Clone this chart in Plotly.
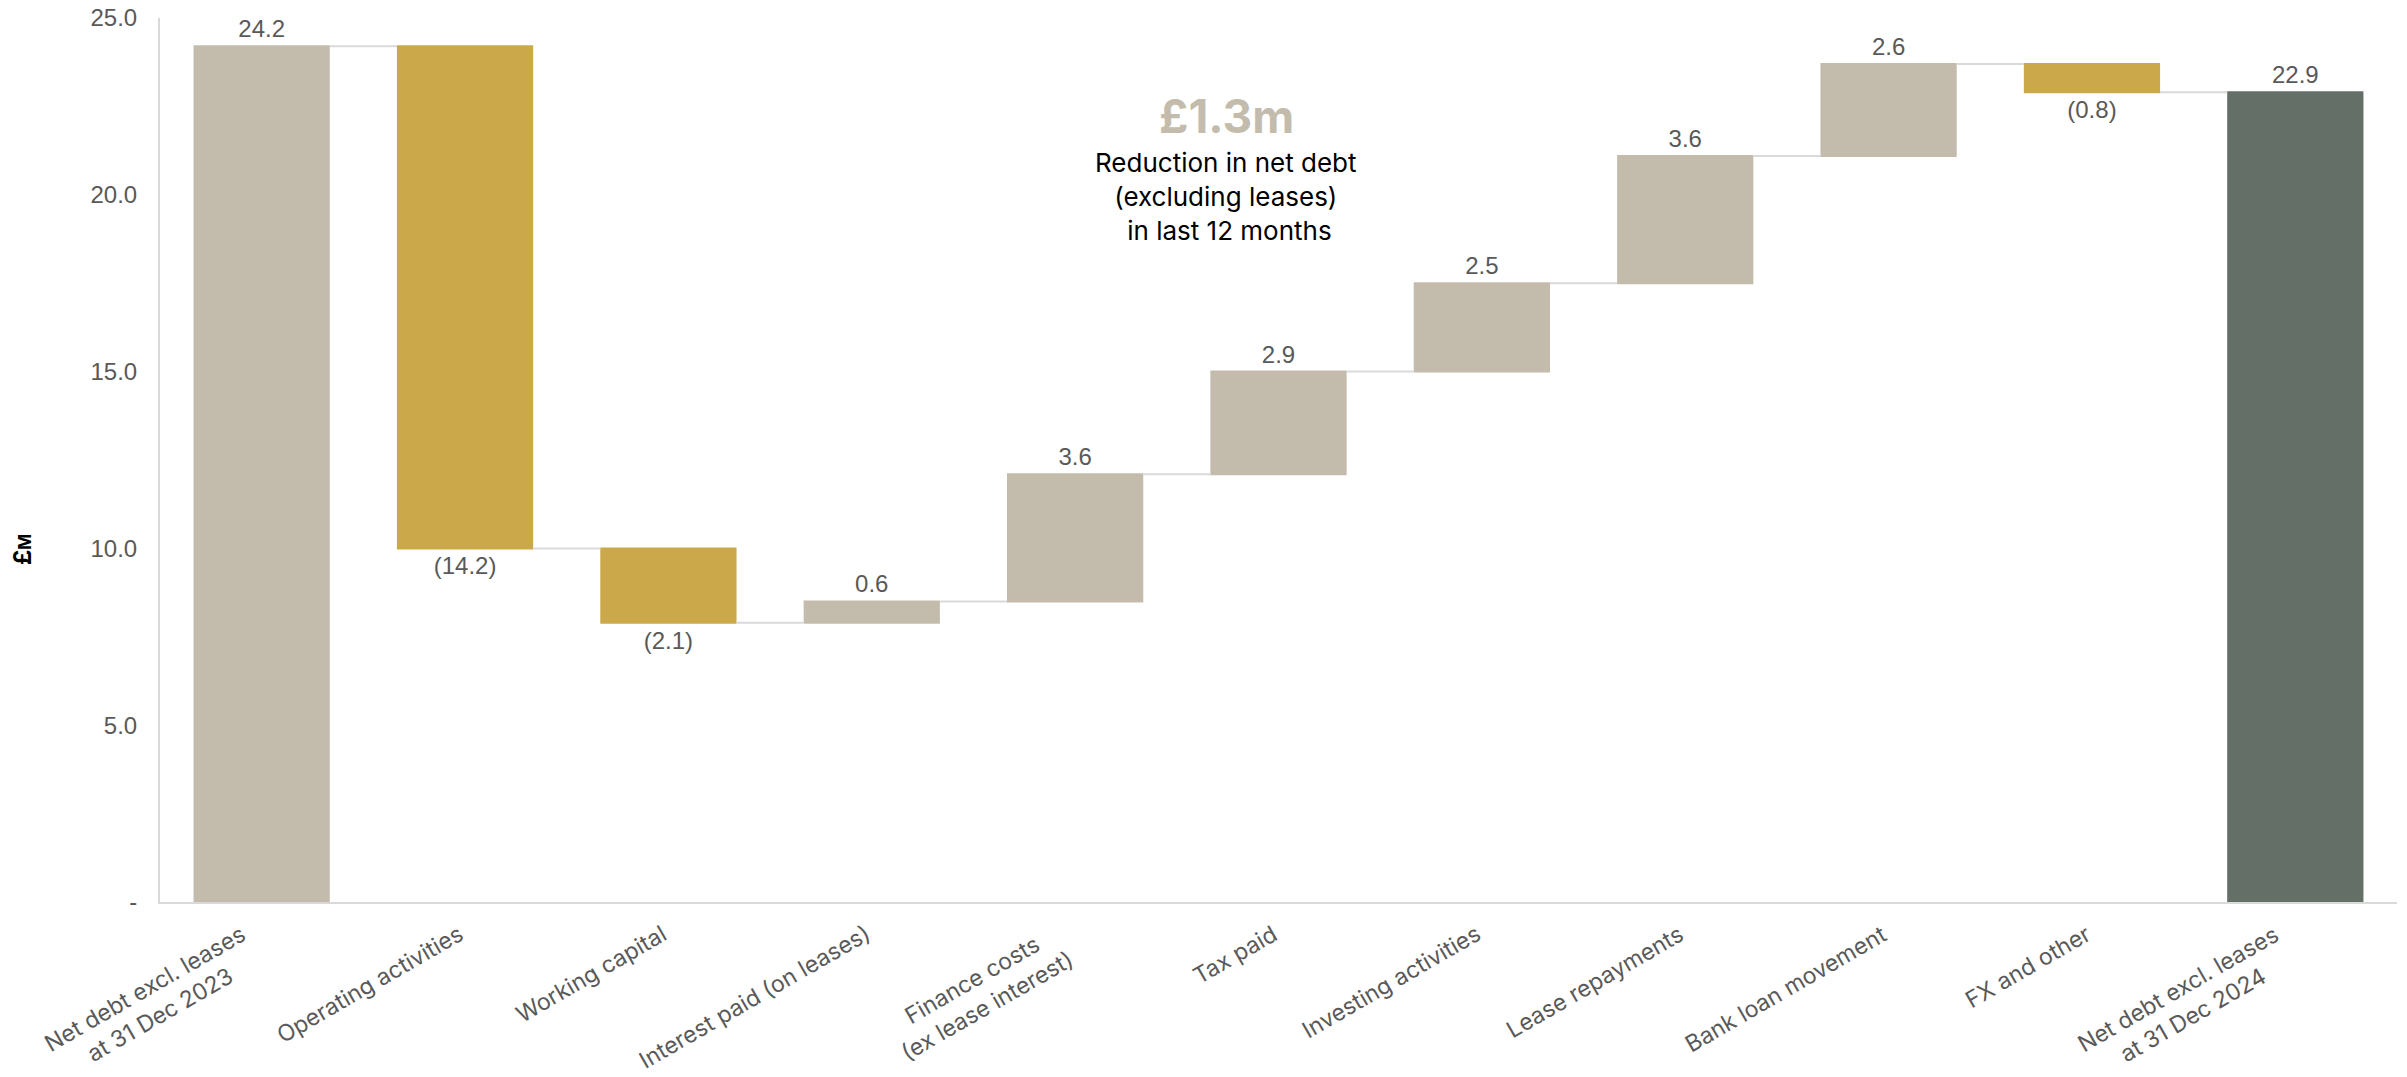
import plotly.graph_objects as go

categories = [
    "Net debt excl. leases<br>at 31 Dec 2023",
    "Operating activities",
    "Working capital",
    "Interest paid (on leases)",
    "Finance costs<br>(ex lease interest)",
    "Tax paid",
    "Investing activities",
    "Lease repayments",
    "Bank loan movement",
    "FX and other",
    "Net debt excl. leases<br>at 31 Dec 2024",
]
values = [24.2, -14.2, -2.1, 0.6, 3.6, 2.9, 2.5, 3.6, 2.6, -0.8, 22.9]
measures = ["relative"] + ["relative"] * 9 + ["total"]
ytick_vals = [0, 5, 10, 15, 20, 25]
ytick_text = ["-", "5.0", "10.0", "15.0", "20.0", "25.0"]

labels = [f"({abs(v):.1f})" if v < 0 else f"{v:.1f}" for v in values]

BEIGE = "#C3BCAC"
GOLD = "#CBA94B"
DARK = "#636F67"
GREY_TXT = "#595959"
LINE = "#D9D9D9"

fig = go.Figure(
    go.Waterfall(
        x=categories,
        y=values,
        measure=measures,
        text=labels,
        texttemplate="%{text}",
        textposition="outside",
        textfont=dict(family="Liberation Sans, Arial, sans-serif", size=24, color=GREY_TXT),
        increasing=dict(marker=dict(color=BEIGE, line=dict(width=0))),
        decreasing=dict(marker=dict(color=GOLD, line=dict(width=0))),
        totals=dict(marker=dict(color=DARK, line=dict(width=0))),
        connector=dict(mode="between", line=dict(color=LINE, width=2)),
        cliponaxis=False,
        hoverinfo="skip",
    )
)

# category labels as rotated, centre-aligned annotations under each bar
cat_annotations = [
    dict(
        text=c,
        xref="x", yref="paper",
        x=i, y=-(15 / 884),
        xanchor="right", yanchor="top",
        xshift=6,
        textangle=-30,
        align="center",
        showarrow=False,
        font=dict(family="Inter, sans-serif", size=23, color=GREY_TXT),
    )
    for i, c in enumerate(categories)
]

fig.update_layout(
    width=2407,
    height=1077,
    margin=dict(l=160, r=10, t=18, b=175),
    paper_bgcolor="white",
    plot_bgcolor="white",
    showlegend=False,
    waterfallgap=0.33,
    font=dict(family="Inter, Liberation Sans, sans-serif", color=GREY_TXT),
    xaxis=dict(
        type="category",
        range=[-0.5, len(categories) - 0.5],
        showticklabels=False,
        showline=True,
        linecolor=LINE,
        linewidth=2,
        showgrid=False,
        ticks="",
        zeroline=False,
        automargin=False,
    ),
    yaxis=dict(
        range=[0, 25],
        tickvals=ytick_vals,
        ticktext=ytick_text,
        tickfont=dict(family="Liberation Sans, Arial, sans-serif", size=24, color=GREY_TXT),
        showline=True,
        linecolor=LINE,
        linewidth=2,
        showgrid=False,
        zeroline=False,
        ticks="",
        ticklabelstandoff=16,
        automargin=False,
    ),
    annotations=cat_annotations + [
        dict(
            text="<b>£1.3m</b>",
            xref="paper", yref="paper",
            x=(1226 - 160) / 2237, y=1 - (116 - 18) / 884,
            xanchor="center", yanchor="middle",
            showarrow=False,
            font=dict(family="Inter, sans-serif", size=46, color=BEIGE),
        ),
        dict(
            text="Reduction in net debt<br>(excluding leases)<br> in last 12 months",
            xref="paper", yref="paper",
            x=(1226 - 160) / 2237, y=1 - (197 - 18) / 884,
            xanchor="center", yanchor="middle",
            align="center",
            showarrow=False,
            font=dict(family="Inter, sans-serif", size=26, color="#000000"),
        ),
        dict(
            text="<b>£<span style='font-size:17px'>M</span></b>",
            xref="paper", yref="paper",
            x=(22 - 160) / 2237, y=1 - (550 - 18) / 884,
            xanchor="center", yanchor="middle",
            textangle=-90,
            showarrow=False,
            font=dict(family="Inter, sans-serif", size=24, color="#000000"),
        ),
    ],
)

fig.write_html("out.html")
